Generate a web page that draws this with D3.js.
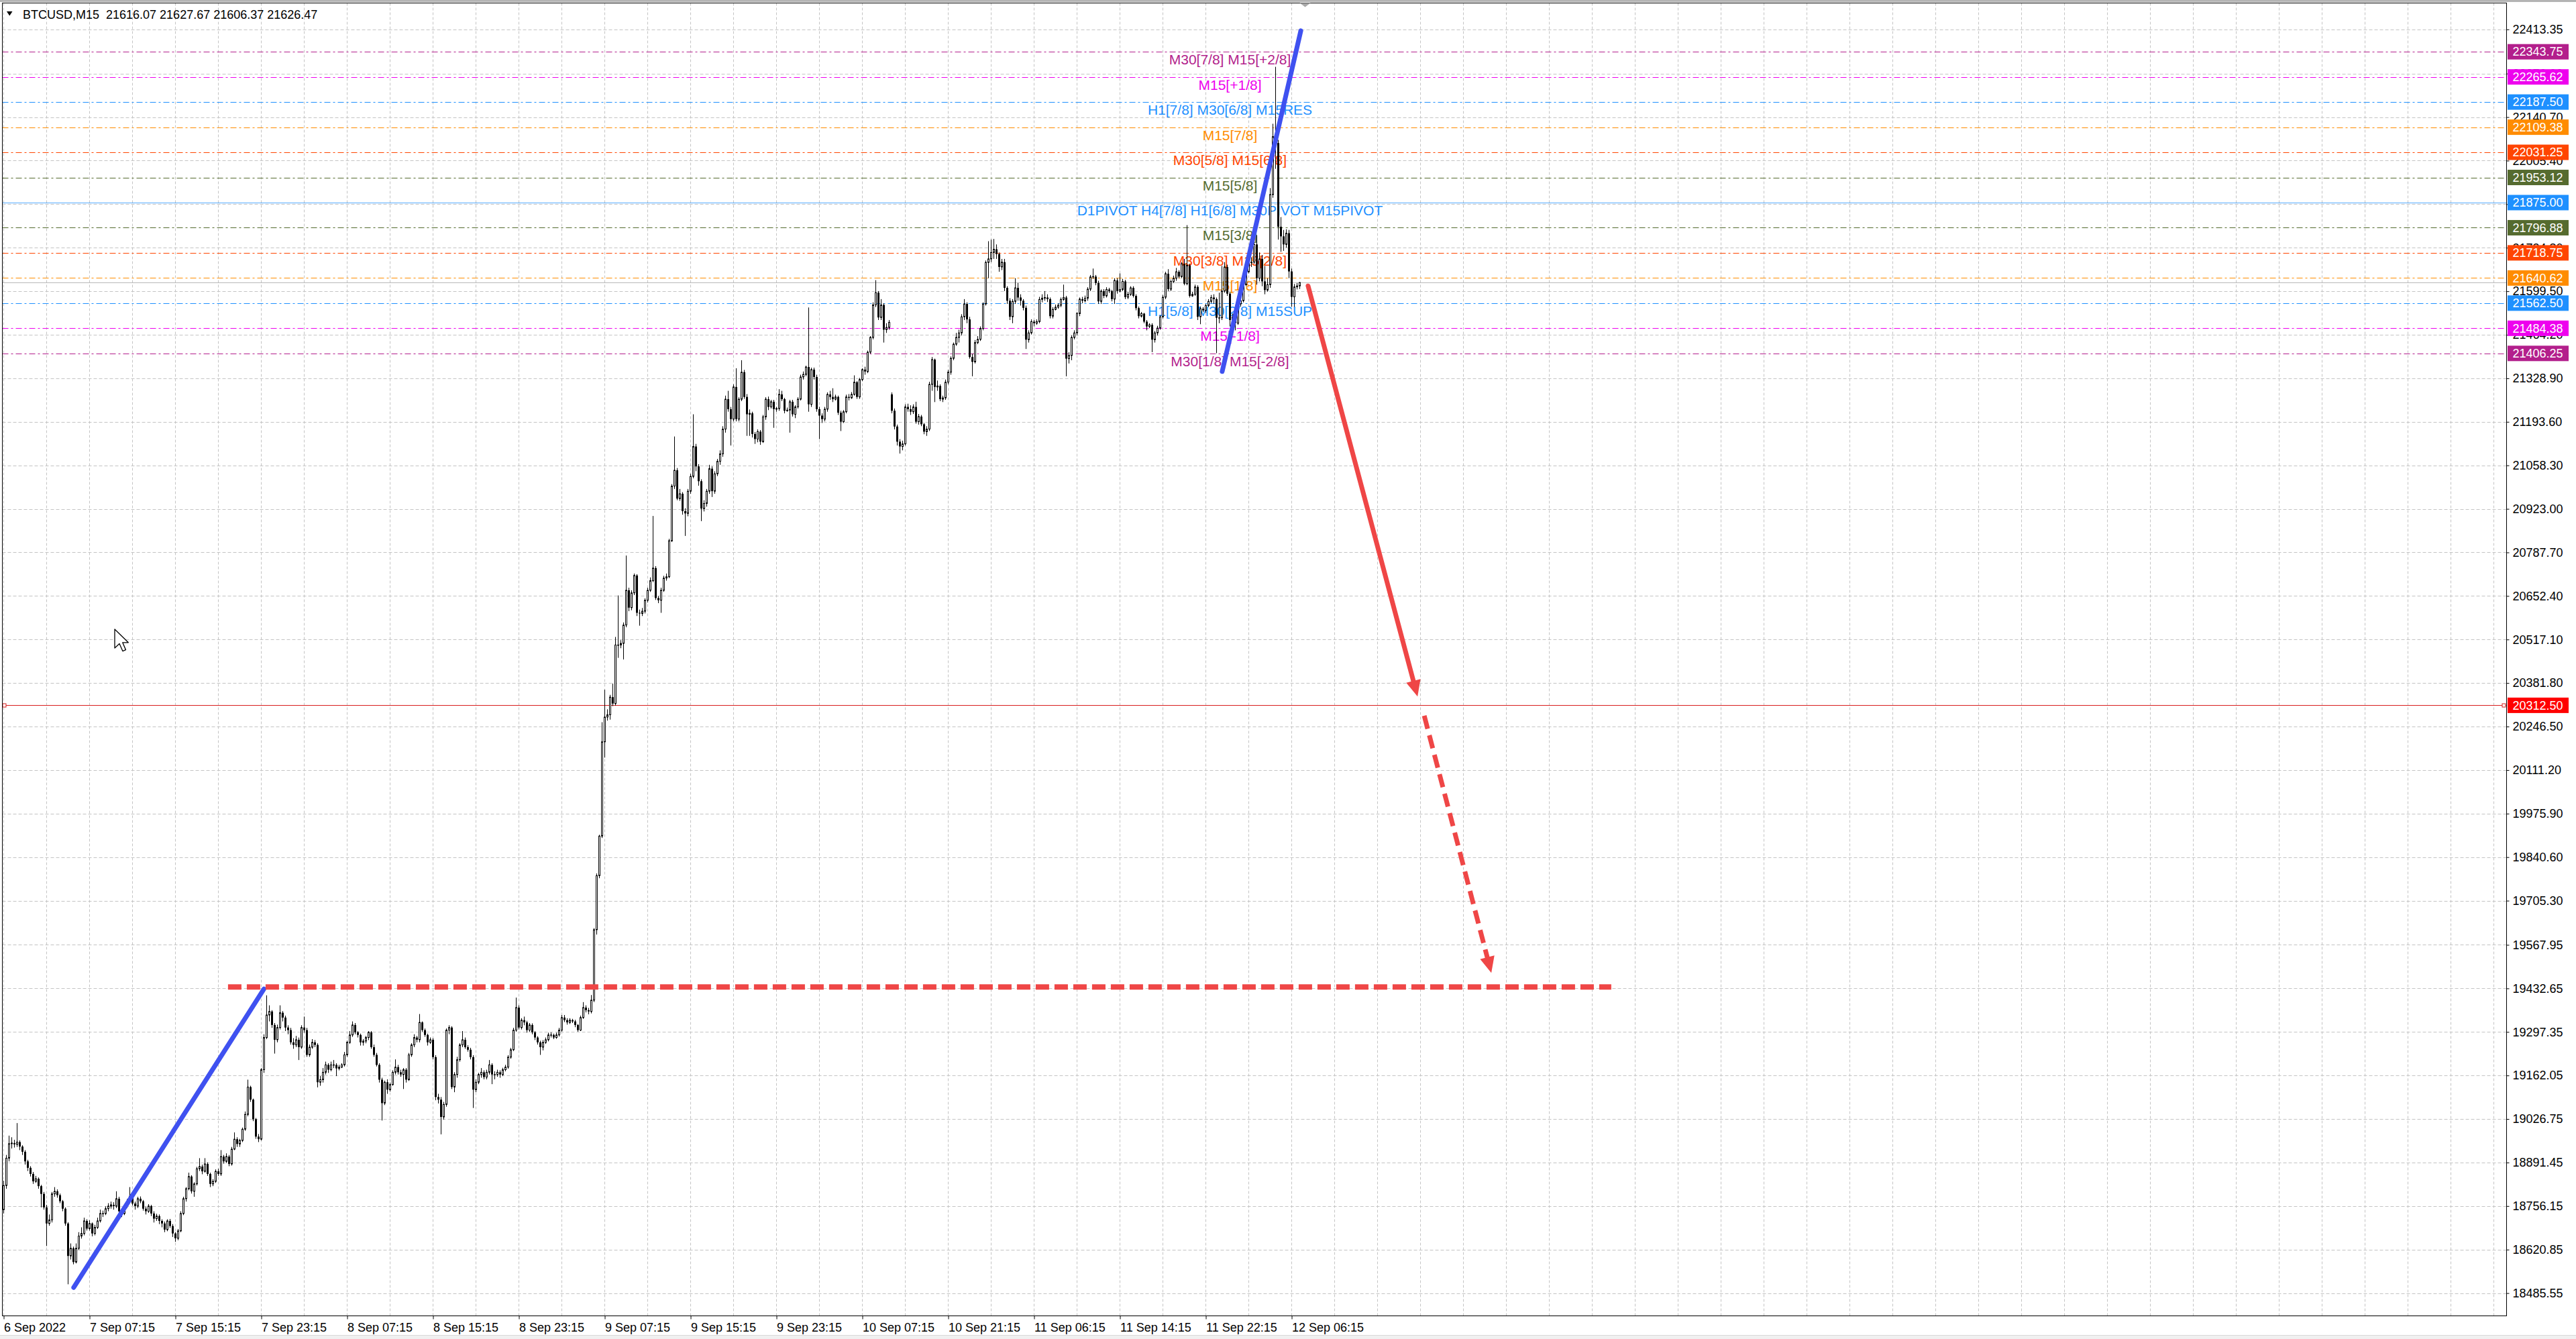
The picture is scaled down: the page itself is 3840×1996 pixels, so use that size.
<!DOCTYPE html>
<html><head><meta charset="utf-8">
<script src="https://cdn.jsdelivr.net/npm/d3@7"></script>
<style>
html,body{margin:0;padding:0;background:#fff;overflow:hidden}
svg{display:block}
</style></head><body>
<svg id="chart" width="3840" height="1996"></svg>
<script>
// ---------------- DATA ----------------
const titleText = "BTCUSD,M15  21616.07 21627.67 21606.37 21626.47";
const firstOpen = 18745;
const gapOpens = {331: 21279, 483: 21616.07};
const closes = [
18820,18905,18950,18952,18948,18955,18941,18925,18895,18875,
18856,18833,18841,18818,18794,18752,18702,18713,18794,18802,
18790,18771,18748,18702,18601,18625,18582,18625,18663,18671,
18710,18686,18702,18671,18690,18710,18733,18733,18748,18756,
18760,18756,18779,18740,18733,18756,18771,18787,18764,18756,
18779,18771,18748,18740,18756,18733,18717,18725,18710,18702,
18683,18710,18694,18671,18656,18679,18733,18779,18810,18848,
18802,18825,18872,18879,18864,18887,18856,18825,18833,18864,
18856,18910,18895,18910,18887,18933,18964,18949,18960,18995,
19041,19126,19087,19026,18972,18964,19180,19280,19350,19361,
19319,19273,19311,19357,19342,19311,19303,19265,19257,19273,
19250,19311,19303,19226,19250,19265,19257,19141,19149,19172,
19195,19180,19195,19195,19184,19188,19195,19226,19265,19288,
19319,19296,19288,19265,19269,19280,19296,19250,19226,19195,
19149,19076,19141,19118,19134,19172,19188,19172,19165,19180,
19149,19226,19257,19280,19273,19327,19303,19288,19265,19273,
19219,19095,19087,19033,19072,19303,19311,19126,19165,19211,
19257,19273,19250,19242,19219,19118,19141,19165,19172,19157,
19172,19195,19165,19165,19172,19165,19180,19188,19219,19242,
19303,19373,19311,19334,19327,19303,19319,19296,19280,19265,
19250,19265,19273,19288,19288,19280,19288,19303,19342,19334,
19327,19334,19330,19319,19303,19342,19373,19365,19361,19396,
19615,19783,19906,20199,20276,20283,20338,20318,20500,20500,
20505,20562,20670,20616,20662,20716,20600,20598,20605,20639,
20670,20700,20739,20646,20639,20670,20708,20712,20824,20994,
21043,20955,20970,20916,20909,20978,21024,21117,21055,21009,
20924,20940,20978,21048,20978,21032,21071,21094,21171,21264,
21233,21202,21302,21202,21264,21348,21271,21217,21220,21156,
21140,21163,21132,21209,21264,21240,21256,21233,21235,21279,
21264,21228,21230,21256,21217,21240,21264,21333,21341,21364,
21248,21356,21333,21233,21213,21202,21233,21279,21271,21264,
21271,21222,21194,21225,21271,21268,21279,21317,21271,21325,
21356,21350,21410,21456,21557,21595,21518,21557,21480,21487,
21503,21228,21179,21132,21117,21125,21240,21233,21225,21240,
21194,21210,21186,21163,21171,21310,21387,21302,21305,21264,
21268,21317,21348,21391,21435,21456,21470,21520,21560,21512,
21395,21380,21440,21450,21484,21560,21689,21700,21720,21730,
21715,21675,21690,21610,21570,21520,21568,21610,21580,21570,
21548,21449,21470,21505,21500,21505,21574,21578,21580,21575,
21522,21543,21550,21556,21574,21580,21390,21400,21456,21470,
21530,21575,21570,21578,21606,21644,21645,21625,21568,21600,
21585,21605,21600,21575,21633,21600,21605,21630,21581,21590,
21610,21585,21547,21522,21530,21505,21490,21495,21449,21470,
21485,21520,21581,21654,21606,21630,21640,21660,21645,21685,
21623,21680,21585,21590,21613,21520,21545,21540,21555,21568,
21580,21575,21517,21517,21600,21675,21592,21510,21520,21500,
21560,21570,21620,21660,21688,21690,21745,21640,21700,21630,
21603,21620,21900,22080,22060,21800,21770,21745,21780,21661,
21582,21613,21616.07,21626.47];
const highs = [
18835,18915,18975,18970,18962,19014,18960,18945,18930,18900,
18880,18862,18850,18845,18822,18800,18760,18730,18800,18815,
18808,18795,18775,18752,18706,18640,18630,18640,18675,18690,
18720,18715,18712,18705,18698,18720,18745,18742,18755,18765,
18770,18768,18802,18785,18748,18762,18778,18815,18792,18770,
18785,18786,18775,18755,18762,18760,18740,18732,18730,18715,
18708,18715,18716,18700,18675,18685,18740,18785,18815,18860,
18852,18830,18878,18905,18885,18905,18892,18860,18840,18870,
18872,18930,18915,18920,18915,18940,18985,18970,18965,19000,
19050,19149,19130,19090,19030,18980,19185,19290,19411,19380,
19365,19325,19320,19380,19362,19348,19318,19310,19278,19285,
19280,19318,19345,19310,19258,19275,19272,19262,19160,19185,
19205,19200,19205,19210,19200,19195,19200,19235,19270,19300,
19330,19325,19300,19292,19275,19285,19300,19300,19258,19232,
19200,19155,19146,19150,19140,19178,19212,19195,19180,19185,
19185,19232,19262,19290,19285,19353,19330,19308,19292,19280,
19278,19225,19105,19095,19080,19308,19318,19315,19172,19220,
19262,19300,19280,19256,19248,19225,19150,19170,19185,19178,
19180,19210,19200,19175,19180,19178,19186,19195,19225,19248,
19310,19404,19380,19340,19345,19332,19325,19324,19300,19284,
19270,19272,19280,19295,19296,19292,19295,19310,19350,19350,
19340,19340,19338,19335,19322,19348,19390,19380,19372,19412,
19620,19790,19910,20260,20361,20300,20345,20380,20525,20654,
20515,20570,20778,20678,20670,20722,20720,20610,20615,20645,
20678,20710,20901,20745,20652,20678,20715,20722,20830,21000,
21148,21050,20985,20975,20925,20985,21032,21217,21125,21062,
21015,20950,20985,21060,21055,21040,21078,21105,21180,21275,
21290,21240,21310,21360,21270,21385,21355,21280,21232,21225,
21162,21170,21168,21215,21270,21272,21262,21262,21240,21295,
21290,21268,21238,21262,21262,21245,21270,21340,21350,21368,
21549,21362,21362,21340,21240,21220,21240,21285,21290,21298,
21278,21275,21228,21230,21278,21280,21286,21338,21320,21330,
21360,21365,21415,21460,21565,21634,21600,21575,21562,21500,
21510,21285,21235,21185,21140,21135,21248,21250,21245,21248,
21256,21218,21215,21190,21180,21318,21395,21390,21322,21310,
21275,21325,21355,21397,21440,21470,21480,21528,21575,21565,
21520,21405,21448,21460,21490,21565,21695,21755,21760,21762,
21745,21720,21700,21700,21615,21578,21575,21640,21625,21590,
21575,21555,21478,21512,21510,21512,21582,21590,21600,21590,
21580,21550,21558,21562,21580,21620,21585,21410,21462,21478,
21535,21580,21582,21586,21612,21650,21670,21650,21632,21605,
21606,21612,21610,21604,21640,21640,21655,21638,21635,21598,
21615,21615,21590,21552,21535,21532,21510,21500,21500,21476,
21492,21525,21588,21660,21668,21636,21648,21672,21665,21690,
21700,21805,21685,21598,21620,21618,21552,21550,21560,21575,
21588,21590,21580,21595,21678,21690,21682,21598,21530,21528,
21565,21580,21625,21668,21736,21705,21770,21774,21720,21712,
21678,21640,21920,22120,22297,22070,21830,21790,21792,21790,
21670,21622,21625,21627.67];
const lows = [
18733,18810,18895,18935,18938,18940,18930,18915,18885,18865,
18848,18825,18828,18810,18752,18745,18632,18695,18705,18785,
18782,18765,18740,18695,18513,18590,18575,18578,18620,18655,
18665,18680,18680,18662,18665,18685,18705,18722,18728,18740,
18748,18745,18750,18732,18722,18728,18750,18765,18758,18745,
18750,18765,18742,18730,18735,18725,18705,18710,18700,18690,
18675,18678,18688,18660,18645,18650,18675,18728,18770,18805,
18795,18785,18820,18865,18855,18860,18850,18815,18818,18828,
18850,18850,18888,18890,18880,18882,18930,18940,18940,18955,
18990,19035,19080,19020,18965,18955,18960,19170,19275,19330,
19310,19230,19265,19305,19330,19300,19290,19258,19245,19250,
19210,19245,19295,19220,19220,19245,19250,19125,19130,19140,
19165,19170,19175,19185,19160,19178,19185,19190,19220,19260,
19282,19290,19280,19255,19255,19262,19272,19245,19220,19190,
19140,19022,19070,19105,19112,19130,19165,19165,19158,19120,
19140,19145,19220,19250,19265,19265,19298,19282,19255,19260,
19212,19085,19075,18979,19025,19065,19290,19120,19110,19155,
19205,19250,19245,19236,19212,19061,19110,19135,19155,19150,
19150,19165,19135,19150,19158,19155,19160,19175,19183,19214,
19238,19298,19305,19305,19318,19295,19298,19290,19272,19258,
19226,19240,19260,19268,19280,19275,19276,19283,19298,19328,
19320,19322,19325,19312,19298,19300,19338,19358,19352,19355,
19390,19600,19775,19900,20150,20265,20268,20310,20312,20460,
20490,20455,20555,20605,20608,20655,20590,20560,20590,20598,
20632,20665,20695,20640,20630,20600,20665,20700,20708,20820,
20985,20950,20948,20905,20839,20900,20970,21018,21040,20995,
20885,20915,20930,20970,20960,20970,21025,21060,21085,21160,
21225,21120,21195,21195,21195,21258,21265,21150,21150,21145,
21125,21130,21122,21128,21200,21230,21235,21175,21225,21228,
21258,21220,21225,21160,21210,21205,21235,21260,21325,21335,
21225,21240,21325,21225,21140,21190,21195,21225,21262,21255,
21260,21215,21165,21190,21220,21260,21265,21275,21265,21265,
21320,21340,21345,21405,21450,21550,21510,21510,21440,21470,
21480,21220,21170,21120,21095,21105,21120,21225,21215,21218,
21188,21185,21180,21155,21150,21165,21290,21255,21290,21258,
21255,21262,21310,21340,21385,21430,21440,21462,21510,21500,
21390,21335,21375,21435,21445,21478,21555,21640,21690,21700,
21700,21660,21665,21600,21560,21510,21500,21560,21570,21555,
21540,21420,21440,21465,21490,21495,21500,21565,21570,21566,
21515,21515,21540,21545,21550,21570,21335,21375,21385,21450,
21462,21522,21562,21565,21570,21600,21638,21618,21560,21560,
21578,21580,21594,21568,21560,21592,21596,21600,21575,21575,
21585,21580,21540,21515,21518,21500,21478,21485,21410,21440,
21462,21480,21515,21575,21600,21600,21625,21632,21640,21640,
21618,21618,21580,21582,21585,21510,21497,21535,21532,21550,
21562,21560,21407,21500,21510,21595,21585,21490,21505,21478,
21495,21552,21565,21615,21655,21675,21685,21620,21630,21615,
21590,21598,21610,21890,21980,21760,21722,21725,21735,21640,
21551,21551,21605,21606.37];

const priceTicks = [22413.35,22276.00,22140.70,22005.40,21870.10,21734.80,21599.50,21464.20,21328.90,
  21193.60,21058.30,20923.00,20787.70,20652.40,20517.10,20381.80,20246.50,20111.20,19975.90,19840.60,
  19705.30,19567.95,19432.65,19297.35,19162.05,19026.75,18891.45,18756.15,18620.85,18485.55];
const timeLabels = ["6 Sep 2022","7 Sep 07:15","7 Sep 15:15","7 Sep 23:15","8 Sep 07:15","8 Sep 15:15",
  "8 Sep 23:15","9 Sep 07:15","9 Sep 15:15","9 Sep 23:15","10 Sep 07:15","10 Sep 21:15","11 Sep 06:15",
  "11 Sep 14:15","11 Sep 22:15","12 Sep 06:15"];
const labelStep = 32;   // bars between time labels
const gridStep = 16;    // bars between vertical grid lines

const levelPrices = [22343.75,22265.62,22187.50,22109.38,22031.25,21953.12,21875.00,21796.88,21718.75,21640.62,21562.50,21484.38,21406.25];
const levelNames = ["M30[7/8] M15[+2/8]","M15[+1/8]","H1[7/8] M30[6/8] M15RES","M15[7/8]","M30[5/8] M15[6/8]","M15[5/8]",
  "D1PIVOT H4[7/8] H1[6/8] M30PIVOT M15PIVOT","M15[3/8]","M30[3/8] M15[2/8]","M15[1/8]","H1[5/8] M30[2/8] M15SUP","M15[-1/8]","M30[1/8] M15[-2/8]"];
const levelColors = ["#B31F8C","#EE00EE","#1E90FF","#FF8C00","#FF4500","#556B2F","#1E90FF","#556B2F","#FF4500","#FF8C00","#1E90FF","#EE00EE","#B31F8C"];
const levelSolid = [false,false,false,false,false,false,true,false,false,false,false,false,false];
const levelLabelBar = 457;

const bidPrice = 21626.47;
const alertPrice = 20312.50;

// drawn objects: [bar1, price1, bar2, price2]
const blueLines = [[26.1,18503,97.0,19431],[454.1,21350,483.4,22409]];
const targetLine = [83.6,19437,599.1,19437];
const arrowSolid = [486.1,21616,526.9,20340];
const arrowDashed = [529.4,20280,554.4,19481];

// ---------------- DRAWING ----------------
const FONT = "'Liberation Sans', Arial, sans-serif";
const svg = d3.select("#chart");
const plotL = 3.5, plotR = 3736.5, plotT = 4.5, plotB = 1961.5;
const x = d3.scaleLinear().domain([0, 1]).range([5.5, 9.5]);
const y = d3.scaleLinear().domain([18485.55, 22413.35]).range([1927.6, 43.8]);

svg.append("rect").attr("width",3840).attr("height",1996).attr("fill","#fff");
svg.append("rect").attr("x",0).attr("y",0).attr("width",3840).attr("height",3).attr("fill","#b4b4b4");
svg.append("rect").attr("x",0).attr("y",1991).attr("width",3840).attr("height",5).attr("fill","#f0f0f0");
svg.append("line").attr("x1",0).attr("x2",3840).attr("y1",1990.5).attr("y2",1990.5).attr("stroke","#d8d8d8");

svg.append("clipPath").attr("id","plotclip").append("rect")
  .attr("x",plotL).attr("y",plotT).attr("width",plotR-plotL).attr("height",plotB-plotT);
const plot = svg.append("g").attr("clip-path","url(#plotclip)");

// grid
const maxBar = Math.floor(x.invert(plotR));
const gridBars = d3.range(0, maxBar+1, gridStep);
plot.append("g").selectAll("line").data(gridBars).join("line")
  .attr("x1",d=>x(d)).attr("x2",d=>x(d)).attr("y1",plotT).attr("y2",plotB)
  .attr("stroke","#c4c4c4").attr("stroke-width",1).attr("stroke-dasharray","4,3");
plot.append("g").selectAll("line").data(priceTicks).join("line")
  .attr("x1",plotL).attr("x2",plotR).attr("y1",d=>Math.round(y(d))+0.5).attr("y2",d=>Math.round(y(d))+0.5)
  .attr("stroke","#c4c4c4").attr("stroke-width",1).attr("stroke-dasharray","5,3");

// level lines
plot.append("g").selectAll("line").data(levelPrices).join("line")
  .attr("x1",plotL).attr("x2",plotR)
  .attr("y1",d=>Math.round(y(d))+0.5).attr("y2",d=>Math.round(y(d))+0.5)
  .attr("stroke",(d,i)=>levelColors[i]).attr("stroke-width",1)
  .attr("stroke-dasharray",(d,i)=>levelSolid[i]?null:"9,4,3,4")
  .attr("stroke-opacity",(d,i)=>levelSolid[i]?0.75:1);

// bid line and alert line
plot.append("line").attr("x1",plotL).attr("x2",plotR)
  .attr("y1",Math.round(y(bidPrice))+0.5).attr("y2",Math.round(y(bidPrice))+0.5)
  .attr("stroke","#b8b8b8").attr("stroke-width",1);
const ay = Math.round(y(alertPrice))+0.5;
plot.append("line").attr("x1",plotL).attr("x2",plotR).attr("y1",ay).attr("y2",ay)
  .attr("stroke","#D81E1E").attr("stroke-width",1);

// level labels
plot.append("g").selectAll("text").data(levelPrices).join("text")
  .attr("x",x(levelLabelBar)).attr("y",d=>y(d)+19)
  .attr("text-anchor","middle").attr("font-family",FONT).attr("font-size",21)
  .attr("fill",(d,i)=>levelColors[i]).text((d,i)=>levelNames[i]);

// candles
const n = Math.min(closes.length, highs.length, lows.length);
const bars = d3.range(n).map(i=>{
  const o = (i in gapOpens) ? gapOpens[i] : (i===0 ? firstOpen : closes[i-1]);
  return {i, o, h:highs[i], l:lows[i], c:closes[i]};
});
const cg = plot.append("g");
cg.selectAll("line").data(bars).join("line")
  .attr("x1",d=>x(d.i)).attr("x2",d=>x(d.i)).attr("y1",d=>y(d.h)).attr("y2",d=>y(d.l))
  .attr("stroke","#000").attr("stroke-width",1);
cg.selectAll("rect.bear").data(bars.filter(d=>d.c<d.o)).join("rect").attr("class","bear")
  .attr("x",d=>x(d.i)-1.5).attr("width",3)
  .attr("y",d=>y(d.o)).attr("height",d=>Math.max(1,y(d.c)-y(d.o))).attr("fill","#000");
cg.selectAll("rect.bull").data(bars.filter(d=>d.c>=d.o)).join("rect").attr("class","bull")
  .attr("x",d=>x(d.i)-1).attr("width",2)
  .attr("y",d=>y(d.c)).attr("height",d=>Math.max(0.5,y(d.o)-y(d.c)))
  .attr("fill","#fff").attr("stroke","#000").attr("stroke-width",1);

// drawn objects
const lineFrom = a=>({x1:x(a[0]),y1:y(a[1]),x2:x(a[2]),y2:y(a[3])});
const og = plot.append("g");
blueLines.forEach(a=>{
  const p = lineFrom(a);
  og.append("line").attr("x1",p.x1).attr("y1",p.y1).attr("x2",p.x2).attr("y2",p.y2)
    .attr("stroke","#3F51F0").attr("stroke-width",7).attr("stroke-linecap","round");
});
{
  const p = lineFrom(targetLine);
  og.append("line").attr("x1",p.x1).attr("y1",p.y1).attr("x2",p.x2).attr("y2",p.y2)
    .attr("stroke","#EF4646").attr("stroke-width",8).attr("stroke-dasharray","20,8");
}
function arrow(a, dash){
  const p = lineFrom(a);
  const ang = Math.atan2(p.y2-p.y1, p.x2-p.x1);
  const L = 24, Wd = 11;
  const bx = p.x2 - L*Math.cos(ang), by = p.y2 - L*Math.sin(ang);
  og.append("line").attr("x1",p.x1).attr("y1",p.y1).attr("x2",bx+4*Math.cos(ang)).attr("y2",by+4*Math.sin(ang))
    .attr("stroke","#EF4646").attr("stroke-width",7).attr("stroke-linecap",dash?"butt":"round")
    .attr("stroke-dasharray",dash?"20,10":null);
  const px = -Math.sin(ang), py = Math.cos(ang);
  og.append("path").attr("d",`M${p.x2},${p.y2}L${bx+Wd*px},${by+Wd*py}L${bx-Wd*px},${by-Wd*py}Z`)
    .attr("fill","#EF4646");
}
arrow(arrowSolid,false);
arrow(arrowDashed,true);

// alert line anchors
[plotL+3, plotR-4].forEach(cx=>{
  svg.append("rect").attr("x",cx-2.5).attr("y",ay-2.5).attr("width",5).attr("height",5)
    .attr("fill","#fff").attr("stroke","#D81E1E").attr("stroke-width",1);
});

// frame
svg.append("rect").attr("x",plotL).attr("y",plotT).attr("width",plotR-plotL).attr("height",plotB-plotT)
  .attr("fill","none").attr("stroke","#000").attr("stroke-width",1);

// price axis
const yAxis = d3.axisRight(y).tickValues(priceTicks).tickFormat(d=>d.toFixed(2)).tickSize(4).tickPadding(5);
svg.append("g").attr("transform",`translate(${plotR},0)`).call(yAxis)
  .call(g=>g.select(".domain").remove())
  .call(g=>g.selectAll("line").attr("stroke","#000"))
  .call(g=>g.selectAll("text").attr("font-family",FONT).attr("font-size",18).attr("fill","#000"));

// time axis
const xAxis = d3.axisBottom(x).tickValues(timeLabels.map((d,i)=>i*labelStep))
  .tickFormat((d,i)=>timeLabels[i]).tickSize(5).tickPadding(6);
svg.append("g").attr("transform",`translate(0,${plotB})`).call(xAxis)
  .call(g=>g.select(".domain").remove())
  .call(g=>g.selectAll("line").attr("stroke","#000"))
  .call(g=>g.selectAll("text").attr("font-family",FONT).attr("font-size",18).attr("fill","#000")
     .attr("text-anchor","start").attr("x",0));

// price boxes
const boxPrices = levelPrices.concat([alertPrice]);
const boxColors = levelColors.concat(["#FF0000"]);
const bg = svg.append("g");
bg.selectAll("rect").data(boxPrices).join("rect")
  .attr("x",plotR+1.5).attr("width",91).attr("y",d=>y(d)-11.5).attr("height",23)
  .attr("fill",(d,i)=>boxColors[i]);
bg.selectAll("text").data(boxPrices).join("text")
  .attr("x",plotR+9).attr("y",d=>y(d)).attr("dy","0.35em")
  .attr("font-family",FONT).attr("font-size",18).attr("fill","#fff")
  .text(d=>d.toFixed(2));

// header
svg.append("path").attr("d","M10,17L18.5,17L14.25,23.5Z").attr("fill","#000");
svg.append("text").attr("x",34).attr("y",28).attr("font-family",FONT).attr("font-size",18)
  .attr("fill","#000").attr("xml:space","preserve").style("white-space","pre").text(titleText);

// chart shift marker
{
  const sx = x(n + 1);
  svg.append("path").attr("d",`M${sx-8},${plotT}L${sx+8},${plotT}L${sx},${plotT+6}Z`).attr("fill","#a8a8a8");
}

// mouse cursor
{
  const pts = [[0,0],[0,16],[4,12.3],[6.8,18.6],[9.4,17.5],[6.7,11.3],[11.6,11.3]];
  const cx0 = 171, cy0 = 938, k = 1.75;
  svg.append("path").attr("d","M"+pts.map(p=>`${cx0+p[0]*k},${cy0+p[1]*k}`).join("L")+"Z")
    .attr("fill","#fff").attr("stroke","#000").attr("stroke-width",1.3).attr("stroke-linejoin","round");
}
</script>
</body></html>
